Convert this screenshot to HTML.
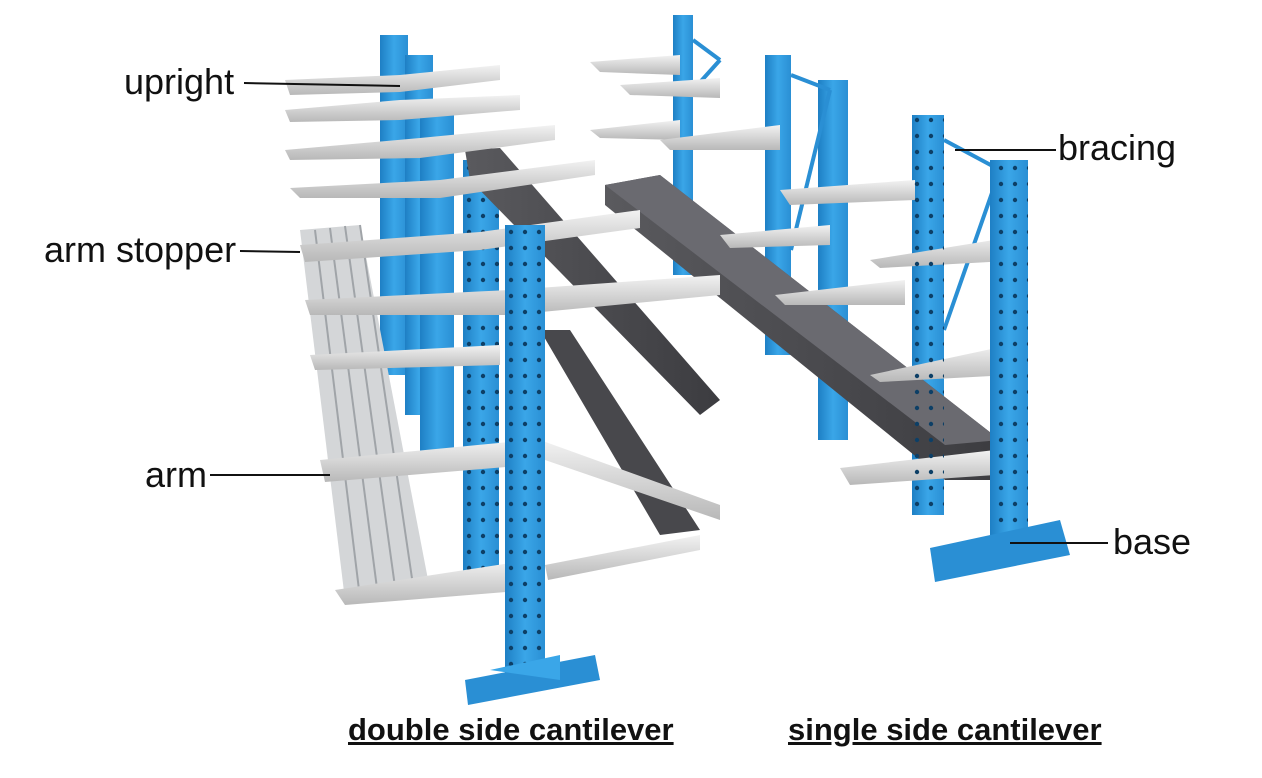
<!DOCTYPE html>
<html><head><meta charset="utf-8"><style>
body{margin:0;background:#fff;width:1262px;height:778px;overflow:hidden;font-family:"Liberation Sans",sans-serif}
.l{position:absolute;font-size:36px;color:#111;line-height:1}
.b{position:absolute;font-size:31px;font-weight:bold;text-decoration:underline;color:#111;line-height:1}
</style></head><body>
<svg width="1262" height="778" style="position:absolute;left:0;top:0">
<defs>
<linearGradient id="bl" x1="0" x2="1"><stop offset="0" stop-color="#1e7fc4"/><stop offset=".5" stop-color="#3aa6e8"/><stop offset="1" stop-color="#2a8fd4"/></linearGradient>
<linearGradient id="ar" x1="0" y1="0" x2="0" y2="1"><stop offset="0" stop-color="#f2f2f2"/><stop offset="1" stop-color="#b8b8b8"/></linearGradient>
<linearGradient id="dk" x1="0" x2="1"><stop offset="0" stop-color="#5a5a5e"/><stop offset="1" stop-color="#3c3c40"/></linearGradient>
<pattern id="holes" width="14" height="16" patternUnits="userSpaceOnUse"><circle cx="7" cy="8" r="2.2" fill="#0d3f66"/></pattern>
</defs>
<g fill="url(#bl)">
<rect x="673" y="15" width="20" height="260"/>
<rect x="765" y="55" width="26" height="300"/>
<rect x="818" y="80" width="30" height="360"/>
<rect x="912" y="115" width="32" height="400"/>
</g>
<g stroke="#2a8fd4" stroke-width="4" fill="none">
<line x1="693" y1="40" x2="720" y2="60"/><line x1="693" y1="90" x2="720" y2="60"/>
<line x1="791" y1="75" x2="830" y2="90"/><line x1="791" y1="250" x2="830" y2="90"/>
<line x1="944" y1="140" x2="1000" y2="170"/><line x1="944" y1="330" x2="1000" y2="170"/>
</g>
<polygon points="605,185 660,175 1000,440 990,480 945,480 605,205" fill="url(#dk)"/>
<polygon points="605,185 660,175 1000,440 945,445" fill="#6a6a70"/>
<g fill="url(#ar)">
<polygon points="590,62 680,55 680,75 600,72"/>
<polygon points="590,130 680,120 680,140 600,138"/>
<polygon points="620,85 720,78 720,98 630,95"/>
<polygon points="660,140 780,125 780,150 670,150"/>
<polygon points="780,190 915,180 915,200 790,205"/>
<polygon points="720,235 830,225 830,245 730,248"/>
<polygon points="775,295 905,280 905,305 785,305"/>
<polygon points="870,260 1025,235 1025,260 880,268"/>
<polygon points="870,375 1010,345 1010,375 880,382"/>
<polygon points="840,468 995,450 995,475 850,485"/>
</g>
<rect x="990" y="160" width="38" height="400" fill="url(#bl)"/>
<rect x="990" y="160" width="38" height="400" fill="url(#holes)"/>
<rect x="912" y="115" width="32" height="400" fill="url(#holes)"/>
<polygon points="930,548 1060,520 1070,555 935,582" fill="#2a8fd4"/>
<g fill="url(#bl)">
<rect x="380" y="35" width="28" height="340"/>
<rect x="405" y="55" width="28" height="360"/>
<rect x="420" y="110" width="34" height="360"/>
<rect x="463" y="160" width="36" height="420"/>
</g>
<rect x="463" y="160" width="36" height="420" fill="url(#holes)"/>
<polygon points="465,150 500,148 720,400 700,415 470,180" fill="url(#dk)"/>
<polygon points="540,330 570,330 700,530 660,535" fill="#48484c"/>
<polygon points="300,230 360,225 430,590 345,600" fill="#d4d6d8"/>
<g stroke="#a0a4a8" stroke-width="2"><line x1="315" y1="230" x2="360" y2="598"/><line x1="330" y1="228" x2="378" y2="596"/><line x1="345" y1="226" x2="396" y2="594"/><line x1="360" y1="225" x2="414" y2="592"/></g>
<g fill="#222"><circle cx="356" cy="595" r="7"/><circle cx="373" cy="593" r="7"/><circle cx="390" cy="591" r="7"/><circle cx="407" cy="589" r="7"/><circle cx="424" cy="587" r="7"/></g>
<g fill="url(#ar)">
<polygon points="285,80 400,75 500,65 500,80 400,92 290,95"/>
<polygon points="285,110 400,100 520,95 520,110 400,120 290,122"/>
<polygon points="285,150 420,138 555,125 555,140 420,158 290,160"/>
<polygon points="290,188 440,180 595,160 595,175 440,198 300,198"/>
<polygon points="300,245 480,232 640,210 640,228 480,250 305,262"/>
<polygon points="305,300 510,290 720,275 720,295 510,315 310,315"/>
<polygon points="310,355 500,345 500,365 315,370"/>
<polygon points="320,460 530,440 530,465 325,482"/>
<polygon points="540,440 720,505 720,520 545,460"/>
<polygon points="335,590 530,560 530,590 345,605"/>
<polygon points="545,565 700,535 700,550 548,580"/>
</g>
<rect x="505" y="225" width="40" height="455" fill="url(#bl)"/>
<rect x="505" y="225" width="40" height="455" fill="url(#holes)"/>
<polygon points="465,680 595,655 600,680 468,705" fill="#2a8fd4"/>
<polygon points="490,670 560,655 560,680" fill="#3aa6e8"/>
<g stroke="#111" stroke-width="2">
<line x1="244" y1="83" x2="400" y2="86"/>
<line x1="240" y1="251" x2="300" y2="252"/>
<line x1="210" y1="475" x2="330" y2="475"/>
<line x1="955" y1="150" x2="1056" y2="150"/>
<line x1="1010" y1="543" x2="1108" y2="543"/>
</g>
</svg>
<div class="l" style="left:124px;top:64px">upright</div>
<div class="l" style="left:44px;top:232px">arm stopper</div>
<div class="l" style="left:145px;top:457px">arm</div>
<div class="l" style="left:1058px;top:130px">bracing</div>
<div class="l" style="left:1113px;top:524px">base</div>
<div class="b" style="left:348px;top:714px">double side cantilever</div>
<div class="b" style="left:788px;top:714px">single side cantilever</div>
</body></html>
